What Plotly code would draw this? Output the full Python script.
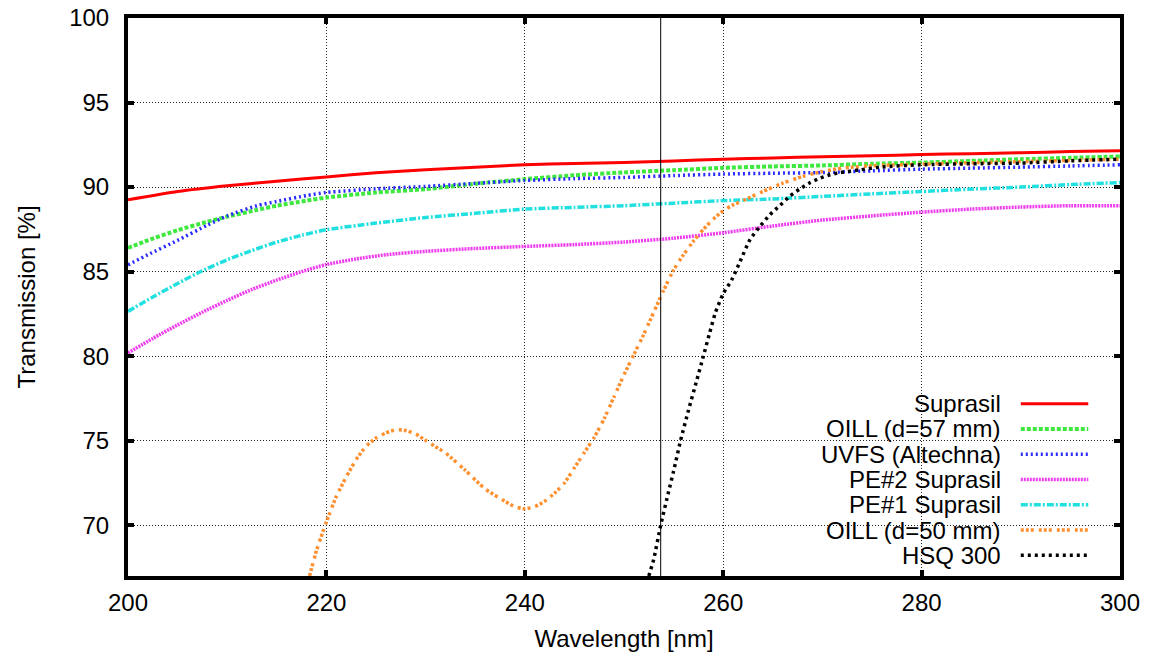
import plotly.graph_objects as go

# ---- measured transmission spectra (wavelength in nm, transmission in %) ----
wl_suprasil = [200, 205, 210, 215, 220, 225, 230, 235, 240, 245, 250, 255, 260,
               265, 270, 275, 280, 285, 290, 295, 300]
t_suprasil = [89.25, 89.74, 90.08, 90.35, 90.6, 90.85, 91.02, 91.18, 91.32, 91.4,
              91.45, 91.55, 91.65, 91.72, 91.8, 91.85, 91.93, 91.97, 92.03, 92.1, 92.15]

wl_oill57 = [200, 202, 205, 208, 210, 213, 215, 218, 220, 225, 230, 235, 240, 245,
             250, 255, 260, 265, 270, 275, 280, 285, 290, 295, 300]
t_oill57 = [86.4, 86.85, 87.45, 87.95, 88.25, 88.65, 88.9, 89.2, 89.38, 89.68, 89.88,
            90.2, 90.47, 90.7, 90.87, 91.0, 91.14, 91.22, 91.28, 91.38, 91.45, 91.55,
            91.65, 91.73, 91.81]

wl_uvfs = [200, 202, 205, 208, 210, 213, 215, 218, 220, 225, 230, 235, 240, 245,
           250, 255, 260, 265, 270, 275, 280, 285, 290, 295, 300]
t_uvfs = [85.4, 86.0, 86.85, 87.75, 88.3, 88.9, 89.15, 89.5, 89.68, 89.9, 90.04,
          90.22, 90.39, 90.5, 90.57, 90.68, 90.77, 90.82, 90.86, 90.96, 91.06, 91.12,
          91.18, 91.25, 91.32]

wl_pe2 = [200, 202.5, 205, 207.5, 210, 212.5, 215, 217.5, 220, 223, 226, 230, 235,
          240, 245, 250, 255, 260, 265, 270, 275, 280, 285, 290, 295, 300]
t_pe2 = [80.19, 81.05, 81.85, 82.6, 83.3, 83.95, 84.5, 85.0, 85.42, 85.75, 86.0,
         86.2, 86.37, 86.49, 86.6, 86.75, 86.98, 87.3, 87.7, 88.05, 88.3, 88.52,
         88.7, 88.82, 88.9, 88.9]

wl_pe1 = [200, 202.5, 205, 207.5, 210, 212.5, 215, 217.5, 220, 225, 230, 235, 240,
          245, 250, 255, 260, 265, 270, 275, 280, 285, 290, 295, 300]
t_pe1 = [82.65, 83.5, 84.3, 85.05, 85.7, 86.25, 86.75, 87.15, 87.48, 87.87, 88.2,
         88.45, 88.7, 88.8, 88.9, 89.05, 89.2, 89.3, 89.45, 89.6, 89.74, 89.88, 90.0,
         90.15, 90.27]

wl_oill50 = [218.3, 219, 220, 221, 222, 223, 224, 225, 226, 227, 228, 229, 230, 231,
             232, 234, 236, 238, 239, 240, 241, 242, 243, 244, 245, 246, 247, 248,
             249, 250, 251, 252, 253, 254, 255, 256, 257, 258, 259, 260, 261, 262,
             264, 266, 268, 270, 272, 275, 280, 285, 290, 295, 300]
t_oill50 = [67.0, 68.5, 70.2, 71.7, 72.86, 73.88, 74.67, 75.16, 75.46, 75.65, 75.6,
            75.4, 75.02, 74.65, 74.28, 73.25, 72.15, 71.42, 71.1, 70.97, 71.1, 71.42,
            71.9, 72.5, 73.4, 74.3, 75.2, 76.3, 77.6, 78.9, 80.1, 81.3, 82.6, 83.9,
            85.1, 86.0, 86.8, 87.5, 88.1, 88.6, 88.95, 89.2, 89.74, 90.23, 90.63,
            90.92, 91.12, 91.26, 91.36, 91.44, 91.51, 91.58, 91.65]

wl_hsq = [252.5, 253, 253.7, 254.5, 255, 255.7, 256.5, 257.3, 258, 258.6, 259.2,
          260, 260.85, 261.7, 262.7, 263.7, 264.7, 265.7, 266.7, 267.7, 268.7,
          269.75, 270.8, 271.8, 273.8, 275.8, 279.9, 285, 290, 295, 300]
t_hsq = [67.0, 68.0, 70.0, 72.0, 73.2, 75.0, 76.8, 78.5, 80.0, 81.3, 82.55, 83.7,
         84.5, 85.6, 86.89, 87.67, 88.36, 88.9, 89.45, 89.88, 90.24, 90.53, 90.73,
         90.86, 91.02, 91.18, 91.32, 91.38, 91.42, 91.55, 91.65]

# mercury line marker
HG_LINE_NM = 253.7

FONT = "Liberation Sans, Arial, sans-serif"

series = [
    ("Suprasil", wl_suprasil, t_suprasil, "#ff0000", "solid", 3),
    ("OILL (d=57 mm)", wl_oill57, t_oill57, "#3fe83f", "4px,2px", 4),
    ("UVFS (Altechna)", wl_uvfs, t_uvfs, "#2b2bff", "2px,3px", 3.5),
    ("PE#2 Suprasil", wl_pe2, t_pe2, "#ee3cee", "2px,1px", 3.5),
    ("PE#1 Suprasil", wl_pe1, t_pe1, "#22e0e0", "7px,2px,2px,2px", 3.5),
    ("OILL (d=50 mm)", wl_oill50, t_oill50, "#ff9030", "3px,2px,3px,2px,3px,5px", 3.5),
    ("HSQ 300", wl_hsq, t_hsq, "#000000", "3px,4px", 3.5),
]

fig = go.Figure()
for name, xs, ys, color, dash, width in series:
    fig.add_trace(go.Scatter(
        x=xs, y=ys, mode="lines", name=name,
        line=dict(color=color, dash=dash, width=width, shape="spline", smoothing=0.6),
        showlegend=False,
    ))

fig.add_vline(x=HG_LINE_NM, line_width=1, line_color="black", layer="above")

# key box in the lower right corner, text right-aligned with sample line after it
key_x0, key_x1 = 265.4, 298.3
key_y0, key_y1 = 67.0, 78.0
key_text_x = 288.2
key_line_x = (290.0, 296.8)
key_row0, key_step = 77.19, 1.495

shapes = [dict(type="rect", xref="x", yref="y", x0=key_x0, x1=key_x1,
               y0=key_y0, y1=key_y1, fillcolor="white", line_width=0,
               layer="between")]
annotations = []
for i, (name, _, _, color, dash, width) in enumerate(series):
    yy = key_row0 - i * key_step
    annotations.append(dict(
        x=key_text_x, y=yy, xref="x", yref="y", text=name, showarrow=False,
        xanchor="right", yanchor="middle", font=dict(family=FONT, size=24, color="black"),
    ))
    shapes.append(dict(type="line", xref="x", yref="y", x0=key_line_x[0],
                       x1=key_line_x[1], y0=yy, y1=yy,
                       line=dict(color=color, dash=dash, width=width), layer="above"))

axis_common = dict(
    showline=True, linecolor="black", linewidth=4, mirror="ticks",
    ticks="inside", ticklen=6, tickwidth=4, tickcolor="black",
    showgrid=True, gridcolor="#222222", gridwidth=1, griddash="1px,2px",
    zeroline=False, automargin=False,
    tickfont=dict(family=FONT, size=24, color="black"),
)

fig.update_xaxes(range=[200, 300], dtick=20, tick0=200,
                 title=dict(text="Wavelength [nm]", font=dict(family=FONT, size=24, color="black"),
                            standoff=16),
                 ticklabelstandoff=2, **axis_common)
fig.update_yaxes(range=[67, 100], tickvals=[70, 75, 80, 85, 90, 95, 100],
                 title=dict(text="Transmission [%]", font=dict(family=FONT, size=24, color="black"),
                            standoff=28),
                 ticklabelstandoff=10, **axis_common)

fig.update_layout(
    width=1153, height=657,
    margin=dict(l=128, r=33, t=18, b=81),
    paper_bgcolor="white", plot_bgcolor="white",
    shapes=shapes, annotations=annotations,
    font=dict(family=FONT, size=24, color="black"),
)

fig.write_html("out.html")
